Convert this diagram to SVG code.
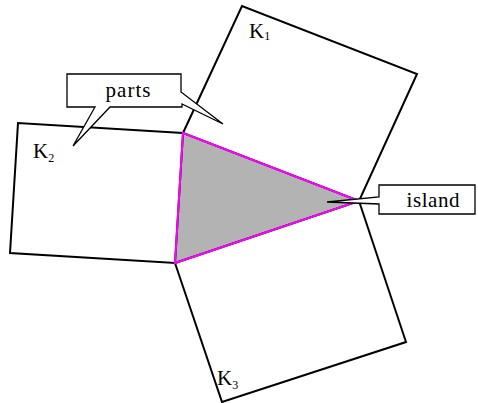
<svg xmlns="http://www.w3.org/2000/svg" width="478" height="403" viewBox="0 0 478 403">
<style>
.sq{fill:none;stroke:#000;stroke-width:2;stroke-linejoin:miter}
.co{fill:#fff;stroke:#000;stroke-width:1.3}
.t{font-family:"Liberation Serif","DejaVu Serif",serif;fill:#000}
.lbl{font-size:21px}
.sub{font-size:12px}
</style>
<rect width="478" height="403" fill="#fff"/>
<polygon points="183,133 359,201 175,263" fill="#b3b3b3" stroke="none"/>
<g id="K1">
<polygon class="sq" points="183,133 242,6 417,74 359,201"/>
<text class="t lbl" x="249" y="38">K<tspan class="sub" dy="2">1</tspan></text>
</g>
<g id="K2">
<polygon class="sq" points="183,133 18,123 10,253 175,263"/>
<text class="t lbl" x="33" y="158">K<tspan class="sub" dy="4">2</tspan></text>
</g>
<g id="K3">
<polygon class="sq" points="175,263 222,402 406,342 359,201"/>
<text class="t lbl" x="217" y="385">K<tspan class="sub" dy="4">3</tspan></text>
</g>
<g id="island-tri">
<polygon points="183,133 359,201 175,263" fill="none" stroke="#ff00ff" stroke-width="2"/>
</g>
<g id="parts">
<path class="co" d="M67,74 H181 V92 L223,124 L182,104 V107 H110 L73,146 L95,107 H67 Z"/>
<text class="t" x="128" y="97" font-size="21" text-anchor="middle" textLength="45">parts</text>
</g>
<g id="island">
<path class="co" d="M379,185 H475 V214 H379 V204 L327,202 L379,197 Z"/>
<text class="t" x="433" y="207" font-size="21" text-anchor="middle" textLength="53">island</text>
</g>
</svg>
